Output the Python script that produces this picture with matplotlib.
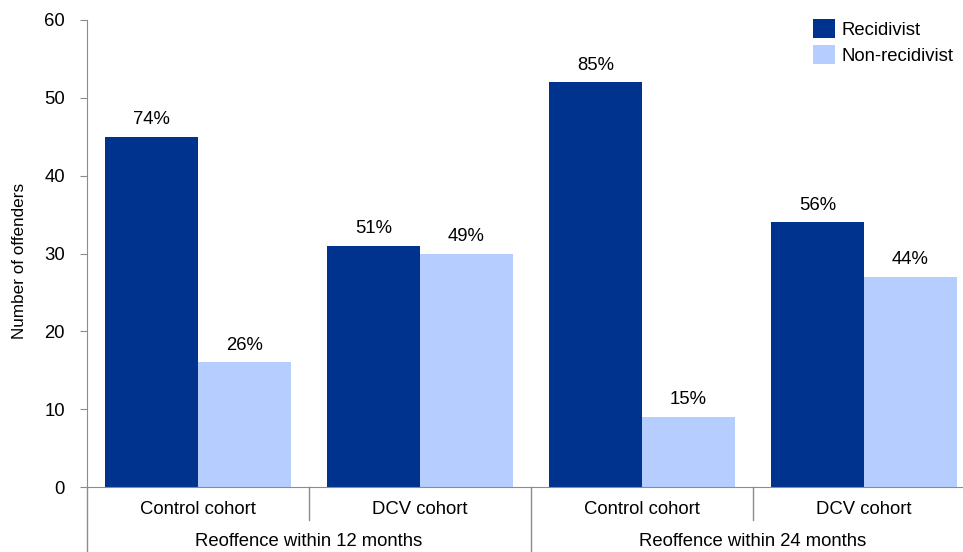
import matplotlib
matplotlib.use("Agg")
import matplotlib.pyplot as plt
import numpy as np

plt.rcParams['font.family'] = ['Liberation Sans', 'DejaVu Sans']

cohorts = ["Control cohort", "DCV cohort", "Control cohort", "DCV cohort"]
periods = ["Reoffence within 12 months", "Reoffence within 24 months"]
recidivist = [45, 31, 52, 34]
non_recidivist = [16, 30, 9, 27]
recid_pct = ["74%", "51%", "85%", "56%"]
non_pct = ["26%", "49%", "15%", "44%"]
series_names = ["Recidivist", "Non-recidivist"]

dark = "#00338E"
light = "#B6CEFF"
gray = "#8C8C8C"
FS = 13.3

W, H = 963, 552
fig = plt.figure(figsize=(W/100, H/100), dpi=100)
ax = fig.add_axes([87/W, 1-487/H, (975-87)/W, (487-20)/H])

x = np.arange(len(cohorts))
bw = 0.419
b1 = ax.bar(x - bw/2, recidivist, bw, color=dark, label=series_names[0])
b2 = ax.bar(x + bw/2, non_recidivist, bw, color=light, label=series_names[1])

for rect, t in zip(b1, recid_pct):
    ax.text(rect.get_x()+rect.get_width()/2, rect.get_height()+2.2, t,
            ha='center', va='center', fontsize=FS)
for rect, t in zip(b2, non_pct):
    ax.text(rect.get_x()+rect.get_width()/2, rect.get_height()+2.2, t,
            ha='center', va='center', fontsize=FS)

ax.set_xlim(-0.5, len(cohorts)-0.5)
ax.set_ylim(0, 60)
ax.set_yticks(range(0, 61, 10))
ax.tick_params(axis='y', length=5, color=gray, labelsize=FS, pad=11)
ax.set_xticks([])
for s in ['top', 'right']:
    ax.spines[s].set_visible(False)
ax.spines['left'].set_color(gray)
ax.spines['bottom'].set_color(gray)
ax.set_ylabel("Number of offenders", fontsize=12.3)
ax.yaxis.set_label_coords((27-87)/(975-87), (487-261)/(487-20))

# multi-level x labels
trans = ax.get_xaxis_transform()
py = lambda px: -(px-487)/(487-20)  # pixel y to axes fraction
for i, c in enumerate(cohorts):
    ax.text(i, py(509), c, transform=trans, ha='center', va='center', fontsize=FS)
for j, p in enumerate(periods):
    ax.text(2*j+0.5, py(541), p, transform=trans, ha='center', va='center', fontsize=FS)
# separators
for xb in [0.5, 2.5]:
    ax.plot([xb, xb], [0, py(520)], transform=trans, color=gray, lw=1, clip_on=False)
for xb in [-0.5, 1.5, 3.5]:
    ax.plot([xb, xb], [0, py(560)], transform=trans, color=gray, lw=1, clip_on=False)

ax.legend(loc='upper left', bbox_to_anchor=(813/W, 1-19/H), bbox_transform=fig.transFigure,
          frameon=False, fontsize=FS, handlelength=1.17, handleheight=1.17,
          handletextpad=0.37, labelspacing=0.37, borderaxespad=0, borderpad=0)

fig.savefig("out.png", dpi=100)
